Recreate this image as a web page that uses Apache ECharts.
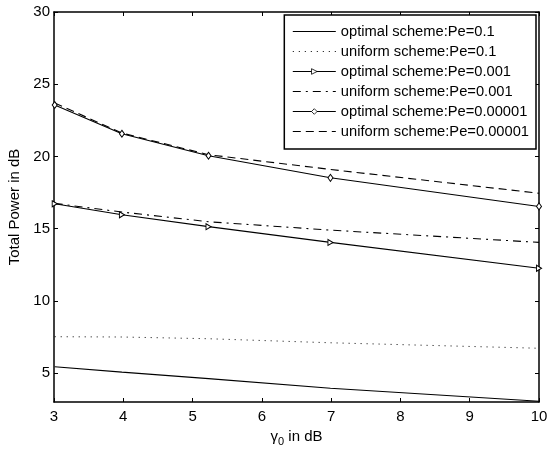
<!DOCTYPE html>
<html><head><meta charset="utf-8">
<script src="https://cdn.jsdelivr.net/npm/echarts@6/dist/echarts.min.js"></script>
<style>html,body{margin:0;padding:0;background:#fff}#c{width:547px;height:450px}</style>
</head><body><div id="c"></div>
<script>
// gamma_0 in dB (sample points)
const gammaDb = [3.01, 3.98, 5.23, 6.99, 10];
// Total power in dB
const optimalPe01 = [5.44, 5.07, 4.62, 3.95, 3.05];
const uniformPe01 = [7.52, 7.50, 7.38, 7.10, 6.72];
const optimalPe001 = [16.72, 15.96, 15.14, 14.05, 12.26];
const uniformPe001 = [16.75, 16.15, 15.48, 14.90, 14.05];
const optimalPe00001 = [23.56, 21.57, 20.05, 18.52, 16.54];
const uniformPe00001 = [23.70, 21.62, 20.12, 19.10, 17.45];
const seriesNames = [
  'optimal scheme:Pe=0.1',
  'uniform scheme:Pe=0.1',
  'optimal scheme:Pe=0.001',
  'uniform scheme:Pe=0.001',
  'optimal scheme:Pe=0.00001',
  'uniform scheme:Pe=0.00001'
];
const hasMarker = [false, false, true, false, true, false];
const xTickValues = [3, 4, 5, 6, 7, 8, 9, 10];
const yTickValues = [5, 10, 15, 20, 25, 30];

const FONT = 'Liberation Sans';
const pts = ys => gammaDb.map((x, i) => [x, ys[i]]);
const triRight = 'path://M0,0 L10,5 L0,10 Z';
const diamond = 'path://M5,0 L10,5 L5,10 L0,5 Z';

function mkSeries(name, ys, dash, symbol, symSize, width) {
  return {
    name: name, type: 'line', data: pts(ys),
    xAxisIndex: 0, yAxisIndex: 0,
    symbol: symbol || 'none',
    symbolSize: symSize || 0,
    showSymbol: !!symbol,
    itemStyle: { color: '#fff', borderColor: '#000', borderWidth: 1 },
    lineStyle: { color: '#000', width: width || 1.1, type: dash || 'solid' },
    emphasis: { disabled: true },
    z: 3
  };
}

const axisCommon = {
  axisLine: { show: true, onZero: false, lineStyle: { color: '#000', width: 1.5 } },
  axisTick: { show: true, inside: true, length: 4, lineStyle: { color: '#000', width: 1 } },
  splitLine: { show: false }
};

const legendData = seriesNames.map((n, i) => hasMarker[i]
  ? { name: n, itemStyle: { color: '#fff', borderColor: '#000', borderWidth: 0.8 } }
  : { name: n, itemStyle: { color: 'rgba(0,0,0,0)', borderColor: 'rgba(0,0,0,0)', borderWidth: 0, opacity: 0 } });

const chart = echarts.init(document.getElementById('c'), null, { renderer: 'canvas' });
chart.setOption({
  animation: false,
  backgroundColor: '#fff',
  textStyle: { fontFamily: FONT },
  grid: { left: 54, right: 8, top: 12, bottom: 48, containLabel: false, outerBoundsMode: 'none' },
  xAxis: [
    Object.assign({}, axisCommon, {
      type: 'value', position: 'bottom', min: 3, max: 10, interval: 1,
      axisLabel: { color: '#000', fontSize: 15, fontFamily: FONT, margin: 7, customValues: xTickValues },
      axisTick: Object.assign({}, axisCommon.axisTick, { customValues: xTickValues }),
      name: '{g|\u03b3}{s|0}{t| in dB}',
      nameLocation: 'middle', nameGap: 19,
      nameTextStyle: {
        color: '#000', fontFamily: FONT, fontSize: 15,
        rich: {
          g: { fontSize: 15, fontFamily: FONT, color: '#000' },
          s: { fontSize: 11, fontFamily: FONT, color: '#000', padding: [12, 0, 0, 0] },
          t: { fontSize: 15, fontFamily: FONT, color: '#000' }
        }
      }
    }),
    Object.assign({}, axisCommon, {
      type: 'value', position: 'top', min: 3, max: 10, interval: 1,
      axisLabel: { show: false },
      axisTick: Object.assign({}, axisCommon.axisTick, { customValues: xTickValues })
    })
  ],
  yAxis: [
    Object.assign({}, axisCommon, {
      type: 'value', position: 'left', min: 3, max: 30,
      axisLabel: { color: '#000', fontSize: 15, fontFamily: FONT, margin: 4, customValues: yTickValues },
      axisTick: Object.assign({}, axisCommon.axisTick, { customValues: yTickValues }),
      name: 'Total Power in dB', nameLocation: 'middle', nameGap: 19,
      nameTextStyle: { color: '#000', fontFamily: FONT, fontSize: 15 }
    }),
    Object.assign({}, axisCommon, {
      type: 'value', position: 'right', min: 3, max: 30,
      axisLabel: { show: false },
      axisTick: Object.assign({}, axisCommon.axisTick, { customValues: yTickValues })
    })
  ],
  legend: {
    orient: 'vertical', right: 11, top: 15,
    backgroundColor: '#fff', borderColor: '#000', borderWidth: 1.5,
    padding: [9, 7, 10, 8],
    itemWidth: 43, itemHeight: 7, itemGap: 5,
    textStyle: { color: '#000', fontFamily: FONT, fontSize: 14.7 },
    lineStyle: { width: 1 },
    inactiveColor: '#000',
    selectedMode: false,
    data: legendData
  },
  series: [
    mkSeries(seriesNames[0], optimalPe01, 'solid'),
    mkSeries(seriesNames[1], uniformPe01, [1, 5], null, 0, 1),
    mkSeries(seriesNames[2], optimalPe001, 'solid', triRight, [5, 6]),
    mkSeries(seriesNames[3], uniformPe001, [8, 5, 2, 5]),
    mkSeries(seriesNames[4], optimalPe00001, 'solid', diamond, [5, 7]),
    mkSeries(seriesNames[5], uniformPe00001, [8, 5])
  ]
});
</script>
</body></html>
